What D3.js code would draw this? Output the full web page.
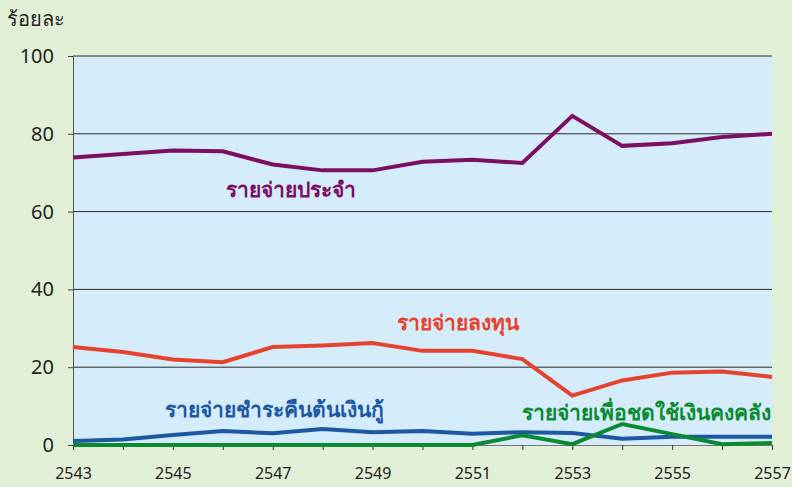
<!DOCTYPE html>
<html><head><meta charset="utf-8">
<script src="https://cdn.jsdelivr.net/npm/d3@7"></script>
<style>
html,body{margin:0;padding:0;background:#e2efd7;}
svg{display:block;}
text{font-family:"Noto Sans","DejaVu Sans",sans-serif;}
</style></head>
<body>
<svg id="c" width="792" height="487"></svg>
<script>
const years = [2543,2544,2545,2546,2547,2548,2549,2550,2551,2552,2553,2554,2555,2556,2557];
const recurrent = [73.9,74.8,75.7,75.5,72.1,70.6,70.6,72.8,73.3,72.5,84.6,76.9,77.6,79.2,80.0];
const capital   = [25.2,23.9,22.0,21.3,25.2,25.6,26.2,24.2,24.2,22.1,12.7,16.6,18.6,18.9,17.5];
const repayment = [1.0,1.4,2.6,3.6,3.0,4.1,3.3,3.6,2.9,3.3,3.1,1.6,2.1,2.1,2.1];
const treasury  = [0,0,0,0,0,0,0,0,0,2.5,0.2,5.4,2.8,0.2,0.5];
const yTicks = [0,20,40,60,80,100];
const xTickLabels = [2543,2545,2547,2549,2551,2553,2555,2557];
const seriesNames = ["รายจ่ายประจำ","รายจ่ายลงทุน","รายจ่ายชำระคืนต้นเงินกู้","รายจ่ายเพื่อชดใช้เงินคงคลัง"];
const yTitle = "ร้อยละ";

const svg = d3.select("#c");
const L=73,R=772,T=56,B=445;
const x = d3.scaleLinear().domain([2543,2557]).range([L,R]);
const y = d3.scaleLinear().domain([0,100]).range([B,T]);

svg.append("rect").attr("x",0).attr("y",0).attr("width",792).attr("height",487).attr("fill","#e2efd7");
svg.append("rect").attr("x",L).attr("y",T).attr("width",R-L).attr("height",B-T).attr("fill","#d5edfa");

// gridlines
svg.append("g").selectAll("line").data(yTicks.filter(d=>d>0)).join("line")
  .attr("x1",L).attr("x2",R).attr("y1",d=>y(d)).attr("y2",d=>y(d))
  .attr("stroke","#2b2b2b").attr("stroke-width",1);

// y axis
const ya = svg.append("g").attr("transform",`translate(${L},0)`)
  .call(d3.axisLeft(y).tickValues(yTicks).tickSize(5).tickPadding(14));
ya.select(".domain").attr("stroke","#555");
ya.selectAll(".tick line").attr("stroke","#444");
ya.selectAll("text").attr("font-size",20).attr("fill","#222").style("font-family","'Noto Sans',sans-serif");

// x axis
const xa = svg.append("g").attr("transform",`translate(0,${B})`)
  .call(d3.axisBottom(x).tickValues(years).tickSize(5).tickPadding(18)
    .tickFormat(d=> xTickLabels.includes(d)? String(d):""));
xa.select(".domain").attr("stroke","#777");
xa.selectAll(".tick line").attr("stroke","#333");
xa.selectAll("text").attr("font-size",16).attr("fill","#222").style("font-family","'Noto Sans',sans-serif");

const line = d3.line().x((d,i)=>x(years[i])).y(d=>y(d));
const colors = ["#7c0f62","#e5432e","#1e58a3","#0b8a32"];
const order = [[recurrent,0],[capital,1],[repayment,2],[treasury,3]];
order.forEach(([s,ci])=>{
  svg.append("path").attr("d",line(s)).attr("fill","none")
    .attr("stroke",colors[ci]).attr("stroke-width",4).attr("stroke-linejoin","miter");
});

// labels
const labs = [
  {t:seriesNames[0],x:226,y:197,c:colors[0]},
  {t:seriesNames[1],x:397,y:330,c:colors[1]},
  {t:seriesNames[2],x:165,y:417,c:colors[2]},
  {t:seriesNames[3],x:522,y:420,c:colors[3]},
];
svg.append("g").selectAll("text").data(labs).join("text")
  .attr("x",d=>d.x).attr("y",d=>d.y).attr("fill",d=>d.c)
  .attr("font-size",21).attr("font-weight","bold").text(d=>d.t);

svg.append("text").attr("x",7).attr("y",26).attr("font-size",20).attr("fill","#222").text(yTitle);
</script>
</body></html>
